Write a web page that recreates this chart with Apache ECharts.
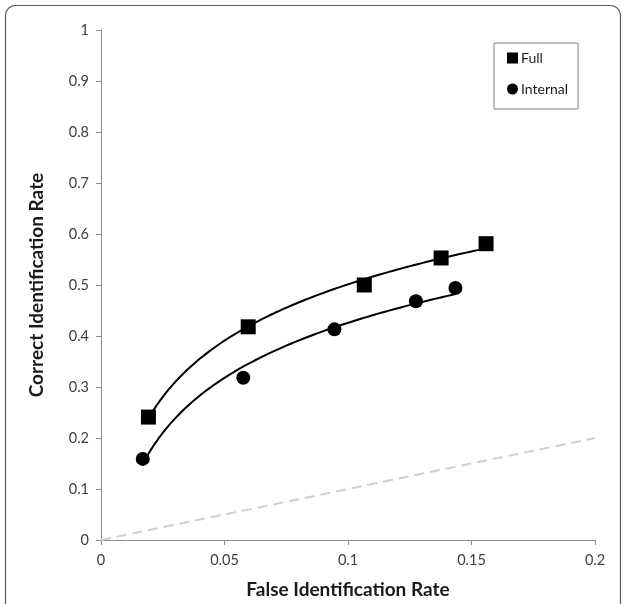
<!DOCTYPE html>
<html>
<head>
<meta charset="utf-8">
<script src="https://cdn.jsdelivr.net/npm/echarts@6/dist/echarts.min.js"></script>
<style>
  html, body { margin: 0; padding: 0; background: #fff; }
  #chart { width: 623px; height: 604px; }
</style>
</head>
<body>
<div id="chart"></div>
<script>
// Observed identification rates
const fullFalse = [0.0192, 0.0596, 0.1066, 0.1377, 0.1559];
const fullCorrect = [0.241, 0.418, 0.500, 0.553, 0.581];
const internalFalse = [0.0169, 0.0576, 0.0945, 0.1275, 0.1435];
const internalCorrect = [0.159, 0.318, 0.413, 0.468, 0.494];

// Chance line (correct rate = false rate)
const chanceX = [0, 0.2];
const chanceY = [0, 0.2];

const xTicks = [0, 0.05, 0.1, 0.15, 0.2];
const yTicks = [0, 0.1, 0.2, 0.3, 0.4, 0.5, 0.6, 0.7, 0.8, 0.9, 1];

const FONT = 'Lato, "Open Sans", sans-serif';

// Least-squares fit of y = a*ln(x) + b over the observed points
function logFit(xs, ys) {
  const lx = xs.map(Math.log);
  const n = xs.length;
  const mx = lx.reduce((s, v) => s + v, 0) / n;
  const my = ys.reduce((s, v) => s + v, 0) / n;
  let sxy = 0, sxx = 0;
  for (let i = 0; i < n; i++) {
    sxy += (lx[i] - mx) * (ys[i] - my);
    sxx += (lx[i] - mx) * (lx[i] - mx);
  }
  const a = sxy / sxx;
  const b = my - a * mx;
  const lo = Math.min(...xs), hi = Math.max(...xs);
  const pts = [];
  const steps = 80;
  for (let i = 0; i <= steps; i++) {
    const x = lo + (hi - lo) * i / steps;
    pts.push([x, a * Math.log(x) + b]);
  }
  return pts;
}

const zip = (xs, ys) => xs.map((x, i) => [x, ys[i]]);

const chart = echarts.init(document.getElementById('chart'), null, { renderer: 'canvas' });

chart.setOption({
  backgroundColor: '#fff',
  animation: false,
  graphic: [{
    type: 'rect',
    shape: { x: 5.5, y: 5.5, width: 615, height: 660, r: 10 },
    style: { fill: 'none', stroke: '#5a5a5a', lineWidth: 1.2 },
    z: 100
  }],
  grid: { left: 101, top: 30, width: 494, height: 515, containLabel: false },
  legend: {
    orient: 'vertical',
    left: 494,
    top: 43,
    padding: [8, 10, 13, 13],
    itemGap: 17,
    itemWidth: 11,
    itemHeight: 11,
    borderColor: '#7f7f7f',
    borderWidth: 1,
    textStyle: { fontFamily: FONT, fontSize: 14, color: '#1a1a1a', padding: [0, 0, 0, -2] },
    data: [
      { name: 'Full', icon: 'rect' },
      { name: 'Internal', icon: 'circle' }
    ]
  },
  xAxis: {
    type: 'value',
    min: 0, max: 0.2, interval: 0.05,
    name: 'False Identification Rate',
    nameLocation: 'middle',
    nameGap: 40,
    nameTextStyle: { fontFamily: FONT, fontSize: 19, fontWeight: 'bold', color: '#1a1a1a' },
    axisLine: { show: true, lineStyle: { color: '#8c8c8c', width: 1 } },
    axisTick: { show: true, inside: false, length: 5, lineStyle: { color: '#8c8c8c' } },
    splitLine: { show: false },
    axisLabel: {
      margin: 13,
      fontFamily: FONT, fontSize: 14.5, color: '#404040',
      formatter: v => {
        const t = xTicks.find(k => Math.abs(k - v) < 1e-9);
        return t === undefined ? '' : String(t);
      }
    }
  },
  yAxis: {
    type: 'value',
    min: 0, max: 1, interval: 0.1,
    name: 'Correct Identification Rate',
    nameLocation: 'middle',
    nameGap: 55,
    nameRotate: 90,
    nameTextStyle: { fontFamily: FONT, fontSize: 19, fontWeight: 'bold', color: '#1a1a1a' },
    axisLine: { show: true, lineStyle: { color: '#8c8c8c', width: 1 } },
    axisTick: { show: true, inside: false, length: 5, lineStyle: { color: '#8c8c8c' } },
    splitLine: { show: false },
    axisLabel: {
      margin: 12,
      fontFamily: FONT, fontSize: 14.5, color: '#404040',
      formatter: v => {
        const t = yTicks.find(k => Math.abs(k - v) < 1e-9);
        return t === undefined ? '' : String(t);
      }
    }
  },
  series: [
    {
      name: 'chance',
      type: 'line',
      data: zip(chanceX, chanceY),
      symbol: 'none',
      silent: true,
      lineStyle: { color: '#cfcfcf', width: 2, type: [10, 6] },
      z: 1
    },
    {
      name: 'Full fit',
      type: 'line',
      data: logFit(fullFalse, fullCorrect),
      symbol: 'none',
      smooth: false,
      silent: true,
      lineStyle: { color: '#000', width: 2 },
      z: 2
    },
    {
      name: 'Internal fit',
      type: 'line',
      data: logFit(internalFalse, internalCorrect),
      symbol: 'none',
      smooth: false,
      silent: true,
      lineStyle: { color: '#000', width: 2 },
      z: 2
    },
    {
      name: 'Full',
      type: 'scatter',
      data: zip(fullFalse, fullCorrect),
      symbol: 'rect',
      symbolSize: 15,
      itemStyle: { color: '#000', opacity: 1 },
      z: 3
    },
    {
      name: 'Internal',
      type: 'scatter',
      data: zip(internalFalse, internalCorrect),
      symbol: 'circle',
      symbolSize: 14,
      itemStyle: { color: '#000', opacity: 1 },
      z: 3
    }
  ]
});
</script>
</body>
</html>
